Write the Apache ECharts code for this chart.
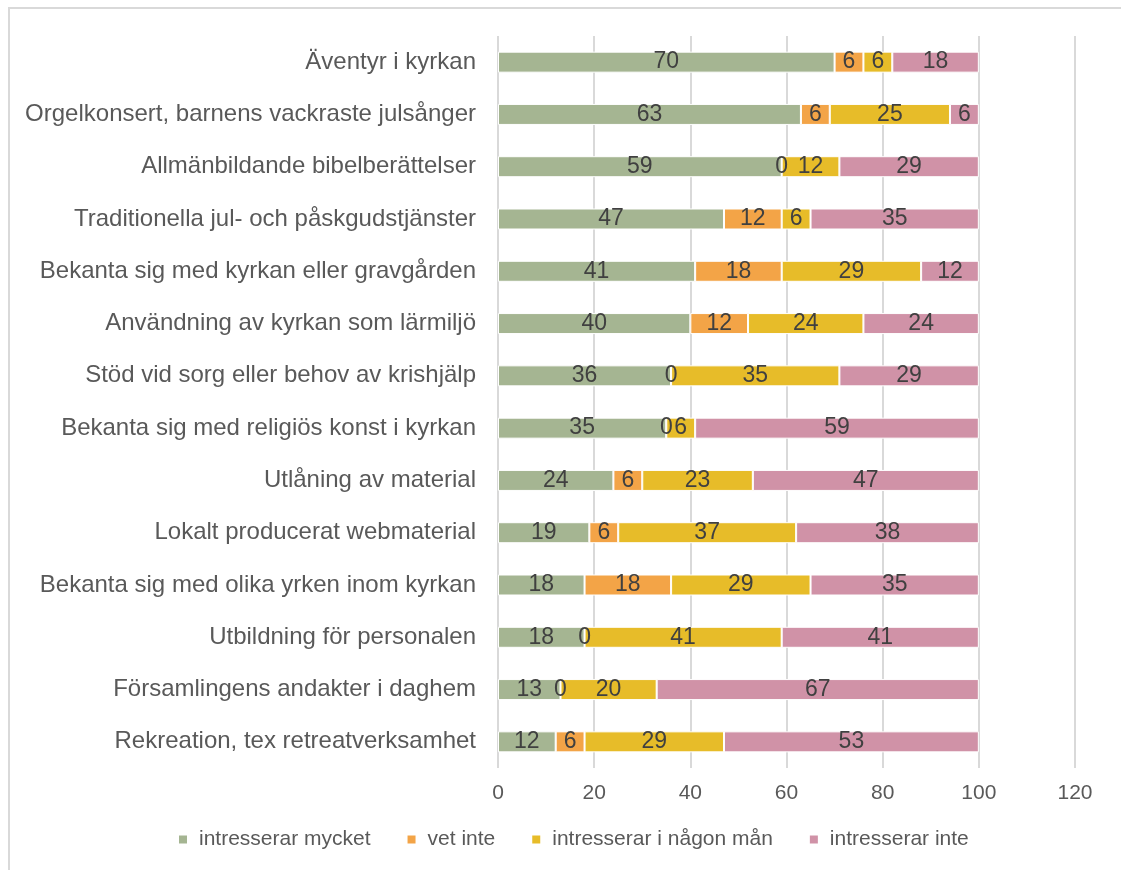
<!DOCTYPE html>
<html>
<head>
<meta charset="utf-8">
<script src="https://cdn.jsdelivr.net/npm/echarts@6/dist/echarts.min.js"></script>
<style>
  html, body { margin: 0; padding: 0; background: #fff; }
  #chart { width: 1121px; height: 870px; }
  #frame { position: absolute; left: 8px; top: 7px; width: 1120px; height: 870px;
           border-left: 2px solid #d9d9d9; border-top: 2px solid #d9d9d9; pointer-events: none; }
</style>
</head>
<body>
<div id="frame"></div>
<div id="chart"></div>
<script>
const categories = [
  "Äventyr i kyrkan",
  "Orgelkonsert, barnens vackraste julsånger",
  "Allmänbildande bibelberättelser",
  "Traditionella jul- och påskgudstjänster",
  "Bekanta sig med kyrkan eller gravgården",
  "Användning av kyrkan som lärmiljö",
  "Stöd vid sorg eller behov av krishjälp",
  "Bekanta sig med religiös konst i kyrkan",
  "Utlåning av material",
  "Lokalt producerat webmaterial",
  "Bekanta sig med olika yrken inom kyrkan",
  "Utbildning för personalen",
  "Församlingens andakter i daghem",
  "Rekreation, tex retreatverksamhet",
];
const mycket = [70, 63, 59, 47, 41, 40, 36, 35, 24, 19, 18, 18, 13, 12];
const vetInte = [6, 6, 0, 12, 18, 12, 0, 0, 6, 6, 18, 0, 0, 6];
const nagonMan = [6, 25, 12, 6, 29, 24, 35, 6, 23, 37, 29, 41, 20, 29];
const inte = [18, 6, 29, 35, 12, 24, 29, 59, 47, 38, 35, 41, 67, 53];

const seriesDefs = [
  { name: "intresserar mycket", data: mycket, color: "#a5b592" },
  { name: "vet inte", data: vetInte, color: "#f3a447" },
  { name: "intresserar i någon mån", data: nagonMan, color: "#e7bc29" },
  { name: "intresserar inte", data: inte, color: "#d092a7" },
];

const chart = echarts.init(document.getElementById("chart"));
chart.setOption({
  animation: false,
  textStyle: { fontFamily: "Liberation Sans, Arial, sans-serif" },
  grid: { left: 498, right: 46, top: 36, bottom: 102, containLabel: false },
  legend: {
    bottom: 15,
    left: 172,
    itemWidth: 10,
    itemHeight: 10,
    itemGap: 35,
    icon: "rect",
    textStyle: { fontSize: 21, color: "#595959", padding: [0, 0, 0, 6] },
    data: seriesDefs.map((s) => s.name),
  },
  xAxis: {
    type: "value",
    min: 0,
    max: 120,
    interval: 20,
    axisLine: { show: false },
    axisTick: { show: false },
    axisLabel: { fontSize: 21, color: "#595959", margin: 15 },
    splitLine: { lineStyle: { color: "#d9d9d9", width: 2 } },
  },
  yAxis: {
    type: "category",
    inverse: true,
    data: categories,
    axisLine: { show: false },
    axisTick: { show: false },
    axisLabel: { fontSize: 24, color: "#595959", margin: 22 },
  },
  series: seriesDefs.map((s) => ({
    name: s.name,
    type: "bar",
    stack: "total",
    barWidth: 21,
    data: s.data,
    itemStyle: { color: s.color, borderColor: "#ffffff", borderWidth: 1 },
    label: { show: true, position: "inside", fontSize: 23, color: "#404040" },
  })),
});
</script>
</body>
</html>
